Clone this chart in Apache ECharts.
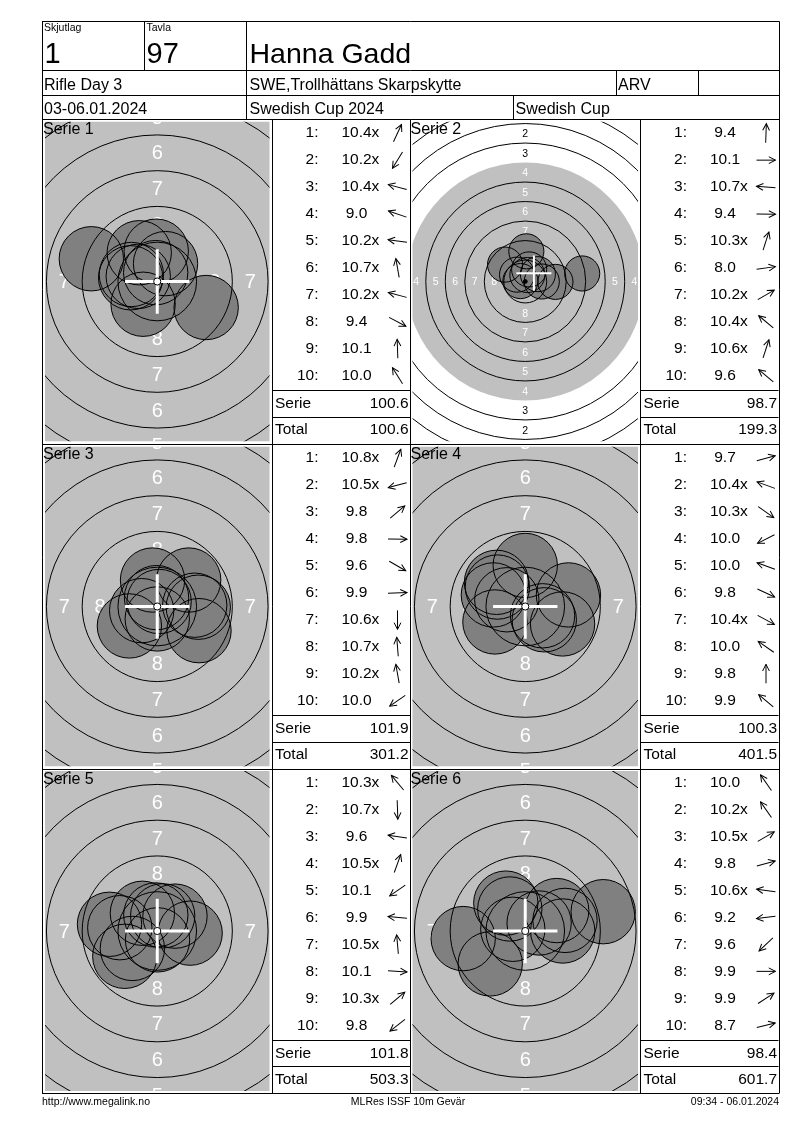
<!DOCTYPE html>
<html>
<head>
<meta charset="utf-8">
<script src="https://cdn.jsdelivr.net/npm/echarts@6/dist/echarts.min.js"></script>
<style>html,body{margin:0;padding:0;background:#fff}#c{width:800px;height:1130px}</style>
</head>
<body>
<div id="c"></div>
<script>
// ---------------- DATA ----------------
const panelNames = ['Serie 1', 'Serie 2', 'Serie 3', 'Serie 4', 'Serie 5', 'Serie 6'];
const scores1 = ['10.4x','10.2x','10.4x','9.0','10.2x','10.7x','10.2x','9.4','10.1','10.0'];
const scores2 = ['9.4','10.1','10.7x','9.4','10.3x','8.0','10.2x','10.4x','10.6x','9.6'];
const scores3 = ['10.8x','10.5x','9.8','9.8','9.6','9.9','10.6x','10.7x','10.2x','10.0'];
const scores4 = ['9.7','10.4x','10.3x','10.0','10.0','9.8','10.4x','10.0','9.8','9.9'];
const scores5 = ['10.3x','10.7x','9.6','10.5x','10.1','9.9','10.5x','10.1','10.3x','9.8'];
const scores6 = ['10.0','10.2x','10.5x','9.8','10.6x','9.2','9.6','9.9','9.9','8.7'];
// shot centre positions in mm (x right, y up), read from the targets
const shotX1 = [0.58,-0.99,-1.33,-4.61,-1.86,-0.11,-1.81,3.42,-0.07,-1.26];
const shotY1 = [1.25,-1.59,0.36,1.59,0.26,0.62,0.49,-1.82,2.12,2.01];
const shotX2 = [0.14,2.12,-0.62,3.87,0.50,7.30,1.62,-1.05,0.27,-2.59];
const shotY2 = [3.87,0.00,0.05,-0.05,1.55,1.03,0.94,0.88,0.83,2.17];
const shotX3 = [0.13,-1.09,2.20,2.87,2.92,2.62,0.00,-0.05,-0.33,-1.95];
const shotY3 = [0.35,-0.29,1.85,-0.05,-1.69,0.09,-0.87,0.62,1.85,-1.36];
const shotX4 = [3.02,-1.29,1.33,-2.12,-2.23,2.61,1.21,-1.95,0.00,-2.01];
const shotY4 = [0.81,0.47,-0.93,-1.08,0.81,-1.22,-0.65,1.36,2.87,1.69];
const shotX5 = [-1.04,0.02,-3.34,0.38,-1.74,-2.62,-0.10,2.30,1.24,-2.27];
const shotY5 = [1.24,-0.62,0.47,1.06,-1.22,0.23,1.12,-0.15,1.04,-1.77];
const shotX6 = [-1.36,-1.08,0.97,2.78,-0.87,-4.34,-2.45,2.62,2.20,5.45];
const shotY6 = [1.95,1.54,0.56,0.74,0.12,-0.53,-2.30,0.00,1.43,1.35];
// white cross (group centre) in mm
const groupCenterX = [0, 1.11, 0, 0, 0, 0];
const groupCenterY = [0, 1.07, 0, 0, 0, 0];
const zoomedView = [true, false, true, true, true, true];
// header / footer texts
const headerSkjutlag = '1';
const headerTavla = '97';
const shooterName = 'Hanna Gadd';
const eventName = 'Rifle Day 3';
const clubName = 'SWE,Trollhättans Skarpskytte';
const classCode = 'ARV';
const dateText = '03-06.01.2024';
const competition = 'Swedish Cup 2024';
const cupName = 'Swedish Cup';
const footerLeft = 'http://www.megalink.no';
const footerMid = 'MLRes ISSF 10m Gevär';
const footerRight = '09:34 - 06.01.2024';

const allScores = [scores1, scores2, scores3, scores4, scores5, scores6];
const allX = [shotX1, shotX2, shotX3, shotX4, shotX5, shotX6];
const allY = [shotY1, shotY2, shotY3, shotY4, shotY5, shotY6];

// ---------------- LAYOUT ----------------
const FAM = '"Liberation Sans", Arial, Helvetica, sans-serif';
const f = (s) => s + 'px ' + FAM;
const mctx = document.createElement('canvas').getContext('2d');
function textW(t, size) { mctx.font = f(size); return mctx.measureText(t).width; }

const ROW_TOP = [119.5, 444.5, 769];
const GRID_LEFT = [45, 412.5];
const GRID_W = [224.5, 225.5];
const GRID_H = 320;
const TABLE_LEFT = [272, 640.5];
const TABLE_W = 138;
const SHOT_R = 2.25;               // pellet radius mm
const ringOuter = n => 0.25 + (10 - n) * 2.5;   // ISSF 10m rifle ring radius (mm)
const ringMid = n => (10 - n) * 2.5 - 1.0;

function clipped(params, children) {
  const cs = params.coordSys;
  return { type: 'group', children: children,
    clipPath: { type: 'rect', shape: { x: cs.x, y: cs.y, width: cs.width, height: cs.height } } };
}

const grids = [], xAxes = [], yAxes = [], series = [];
for (let p = 0; p < 6; p++) {
  const row = Math.floor(p / 2), col = p % 2;
  const zoomed = zoomedView[p];
  const scale = zoomed ? 14.3 : 7.8;
  const hx = GRID_W[col] / 2 / scale, hy = GRID_H / 2 / scale;
  grids.push({ left: GRID_LEFT[col], top: ROW_TOP[row] + 2, width: GRID_W[col], height: GRID_H, show: false });
  xAxes.push({ type: 'value', gridIndex: p, min: -hx, max: hx, show: false });
  yAxes.push({ type: 'value', gridIndex: p, min: -hy, max: hy, show: false });
  const shots = allX[p].map((x, i) => [x, allY[p][i]]);
  const labelSize = zoomed ? 20 : 10.5;
  const base = { type: 'custom', coordinateSystem: 'cartesian2d', xAxisIndex: p, yAxisIndex: p, clip: true, silent: true, animation: false };

  // black aiming mark (grey) + ring numbers
  series.push(Object.assign({}, base, {
    z: 1, data: [[0, 0]],
    renderItem: (params, api) => {
      const c = api.coord([0, 0]);
      const children = [{ type: 'circle', shape: { cx: c[0], cy: c[1], r: api.size([ringOuter(4), 0])[0] }, style: { fill: '#c0c0c0' } }];
      for (let n = 1; n <= 8; n++) {
        const d = api.size([ringMid(n), 0])[0];
        [[0, -1], [0, 1], [-1, 0], [1, 0]].forEach(([dx, dy]) => {
          children.push({ type: 'text', x: c[0] + dx * d, y: c[1] + dy * d + 1,
            style: { text: String(n), fill: n >= 4 ? '#ffffff' : '#000000', font: f(labelSize), textAlign: 'center', textVerticalAlign: 'middle' } });
        });
      }
      return clipped(params, children);
    }
  }));
  // shot fills
  series.push(Object.assign({}, base, {
    z: 2, data: shots,
    renderItem: (params, api) => {
      const c = api.coord([api.value(0), api.value(1)]);
      return clipped(params, [{ type: 'circle', shape: { cx: c[0], cy: c[1], r: api.size([SHOT_R, 0])[0] }, style: { fill: '#808080' } }]);
    }
  }));
  // ring lines
  series.push(Object.assign({}, base, {
    z: 3, data: [[0, 0]],
    renderItem: (params, api) => {
      const c = api.coord([0, 0]);
      const children = [];
      for (let n = 1; n <= 9; n++) {
        if (n === 4) continue;
        children.push({ type: 'circle', shape: { cx: c[0], cy: c[1], r: api.size([ringOuter(n), 0])[0] }, style: { fill: null, stroke: '#000', lineWidth: 1 } });
      }
      return clipped(params, children);
    }
  }));
  // shot outlines
  series.push(Object.assign({}, base, {
    z: 4, data: shots,
    renderItem: (params, api) => {
      const c = api.coord([api.value(0), api.value(1)]);
      return clipped(params, [{ type: 'circle', shape: { cx: c[0], cy: c[1], r: api.size([SHOT_R, 0])[0] }, style: { fill: null, stroke: '#000', lineWidth: 1 } }]);
    }
  }));
  // white cross at group centre
  series.push(Object.assign({}, base, {
    z: 5, data: [[groupCenterX[p], groupCenterY[p]]],
    renderItem: (params, api) => {
      const c = api.coord([api.value(0), api.value(1)]);
      const a = api.size([SHOT_R, 0])[0];
      const lw = zoomed ? 3 : 2;
      return { type: 'group', children: [
        { type: 'line', shape: { x1: c[0] - a, y1: c[1], x2: c[0] + a, y2: c[1] }, style: { stroke: '#fff', lineWidth: lw } },
        { type: 'line', shape: { x1: c[0], y1: c[1] - a, x2: c[0], y2: c[1] + a }, style: { stroke: '#fff', lineWidth: lw } }
      ] };
    }
  }));
  // 10 ring dot
  series.push(Object.assign({}, base, {
    z: 6, data: [[0, 0]],
    renderItem: (params, api) => {
      const c = api.coord([0, 0]);
      return { type: 'circle', shape: { cx: c[0], cy: c[1], r: api.size([ringOuter(10), 0])[0] }, style: { fill: zoomed ? '#fff' : '#000', stroke: '#000', lineWidth: 1 } };
    }
  }));
}

// ---------------- TABLES / FRAME (graphic) ----------------
const g = [];
const px = v => Math.round(v - 0.5) + 0.5;
function hline(x1, x2, y) { g.push({ type: 'line', z: 100, silent: true, shape: { x1: x1, y1: px(y), x2: x2, y2: px(y) }, style: { stroke: '#000', lineWidth: 1 } }); }
function vline(x, y1, y2) { g.push({ type: 'line', z: 100, silent: true, shape: { x1: px(x), y1: y1, x2: px(x), y2: y2 }, style: { stroke: '#000', lineWidth: 1 } }); }
// y is the text baseline
function text(t, x, y, size, align) {
  g.push({ type: 'text', z: 101, silent: true, x: x, y: y - 0.355 * size,
    style: { text: t, font: f(size), fill: '#000', textAlign: align || 'left', textVerticalAlign: 'middle' } });
}
function arrow(cx, cy, ang) {
  g.push({ type: 'group', z: 101, silent: true, x: cx, y: cy, rotation: ang, children: [
    { type: 'line', z: 101, shape: { x1: -9.5, y1: 0, x2: 9.5, y2: 0 }, style: { stroke: '#000', lineWidth: 1 } },
    { type: 'polyline', z: 101, shape: { points: [[2.8, -3.4], [9.5, 0], [2.8, 3.4]] }, style: { stroke: '#000', fill: null, lineWidth: 1 } }
  ] });
}

const L = 42, R = 779, TOP = 21.5, BOT = 1093;
[TOP, 70, 95, ROW_TOP[0], ROW_TOP[1], ROW_TOP[2], BOT].forEach(y => hline(L, R + 0.5, y));
vline(L, TOP, BOT); vline(R, TOP, BOT);
vline(144, TOP, 70); vline(246.5, TOP, ROW_TOP[0]);
vline(616, 70, 95); vline(698, 70, 95); vline(513, 95, ROW_TOP[0]);
[272, 410, 640.5].forEach(x => vline(x, ROW_TOP[0], BOT));

// header texts (y = baseline)
text('Skjutlag', 44, 31.5, 10.5);
text('Tavla', 146.5, 31.5, 10.5);
text(headerSkjutlag, 44.5, 65, 29);
text(headerTavla, 146.5, 65, 29);
text(shooterName, 249.5, 65, 28.5);
text(eventName, 44, 91.5, 16);
text(clubName, 249.5, 91.5, 16);
text(classCode, 618, 91.5, 16);
text(dateText, 44, 115, 16);
text(competition, 249.5, 115, 16);
text(cupName, 515.5, 115, 16);

// footer
text(footerLeft, 42, 1106, 10.5, 'left');
text(footerMid, 408, 1106, 10.5, 'center');
text(footerRight, 779, 1106, 10.5, 'right');

// score tables
let running = 0;
const TS = 15.5;
for (let p = 0; p < 6; p++) {
  const row = Math.floor(p / 2), col = p % 2;
  const T = ROW_TOP[row];
  const tl = TABLE_LEFT[col];
  text(panelNames[p], GRID_LEFT[col] - 2, T + 16.2, 16);
  const sc = allScores[p];
  let sum = 0;
  for (let i = 0; i < sc.length; i++) {
    const base = T + 19.2 + i * 26.95;
    text((i + 1) + ':', tl + 46.5, base, TS, 'right');
    const num = sc[i].replace('x', '');
    sum += parseFloat(num);
    const w = textW(num, TS);
    text(sc[i], tl + 84.5 - w / 2, base, TS, 'left');
    const ang = Math.atan2(allY[p][i], allX[p][i]);
    arrow(tl + 125.5, base - 5.5, ang);
  }
  running += sum;
  hline(tl, tl + TABLE_W, T + 271.2);
  hline(tl, tl + TABLE_W, T + 297.8);
  text('Serie', tl + 3, T + 290.2, TS);
  text(sum.toFixed(1), tl + 136.5, T + 290.2, TS, 'right');
  text('Total', tl + 3, T + 315.8, TS);
  text(running.toFixed(1), tl + 136.5, T + 315.8, TS, 'right');
}

const chart = echarts.init(document.getElementById('c'), null, { renderer: 'canvas', width: 800, height: 1130 });
chart.setOption({
  animation: false,
  backgroundColor: '#ffffff',
  grid: grids,
  xAxis: xAxes,
  yAxis: yAxes,
  series: series,
  graphic: { elements: g }
});
</script>
</body>
</html>
